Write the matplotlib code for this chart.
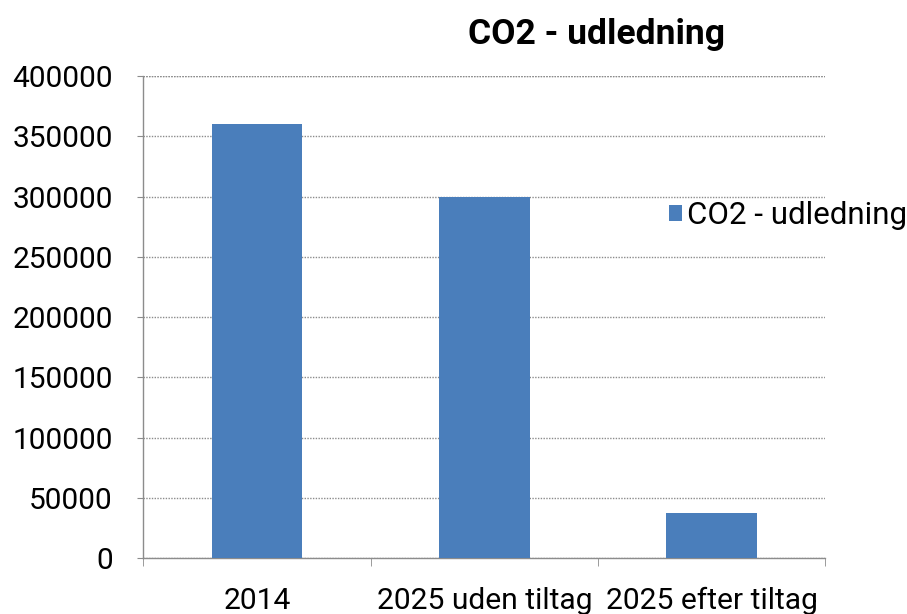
import matplotlib.pyplot as plt
import numpy as np

# Data
categories = ['2014', '2025 uden tiltag', '2025 efter tiltag']
values = [360000, 300000, 37000]
yticks = [0, 50000, 100000, 150000, 200000, 250000, 300000, 350000, 400000]
series_name = 'CO2 - udledning'

bar_color = '#4a7ebb'
grid_color = '#8c8c8c'

plt.rcParams['font.family'] = ['Roboto', 'DejaVu Sans']

fig = plt.figure(figsize=(9.07, 6.14), dpi=100)
ax = fig.add_axes([0.158, 0.0912, 0.752, 0.7848])

x = np.arange(len(categories))
ax.bar(x, values, width=0.4, color=bar_color, label=series_name, zorder=3)

ax.set_xlim(-0.5, len(categories) - 0.5)
ax.set_ylim(0, 400000)

# y axis
ax.set_yticks(yticks)
ax.set_yticklabels([str(v) for v in yticks], fontsize=21.5)
ax.yaxis.grid(True, color=grid_color, linestyle=(0, (1, 1)), linewidth=1, zorder=0)
ax.tick_params(axis='y', direction='out', length=4, color=grid_color, pad=18)

# x axis: labels in centres, tick marks at category boundaries
ax.set_xticks(x)
ax.set_xticklabels(categories, fontsize=21.6)
ax.tick_params(axis='x', which='major', length=0, pad=21)
ax.set_xticks(np.arange(-0.5, len(categories)), minor=True)
ax.tick_params(axis='x', which='minor', direction='out', length=6, color=grid_color)

for side in ['top', 'right']:
    ax.spines[side].set_visible(False)
for side in ['left', 'bottom']:
    ax.spines[side].set_color(grid_color)
    ax.spines[side].set_linestyle((0, (1, 1)))
    ax.spines[side].set_linewidth(1)

# top border dotted like grid
ax.axhline(400000, color=grid_color, linestyle=(0, (1, 1)), linewidth=1, zorder=1)

fig.text(0.658, 0.943, series_name, ha='center', va='center',
         fontsize=25.5, fontweight='bold')

leg = ax.legend(loc='center left', bbox_to_anchor=(0.73, 0.71), frameon=False,
                fontsize=22.5, handlelength=0.4, handleheight=0.4, handletextpad=0.15)

fig.savefig('out.png', dpi=100)
